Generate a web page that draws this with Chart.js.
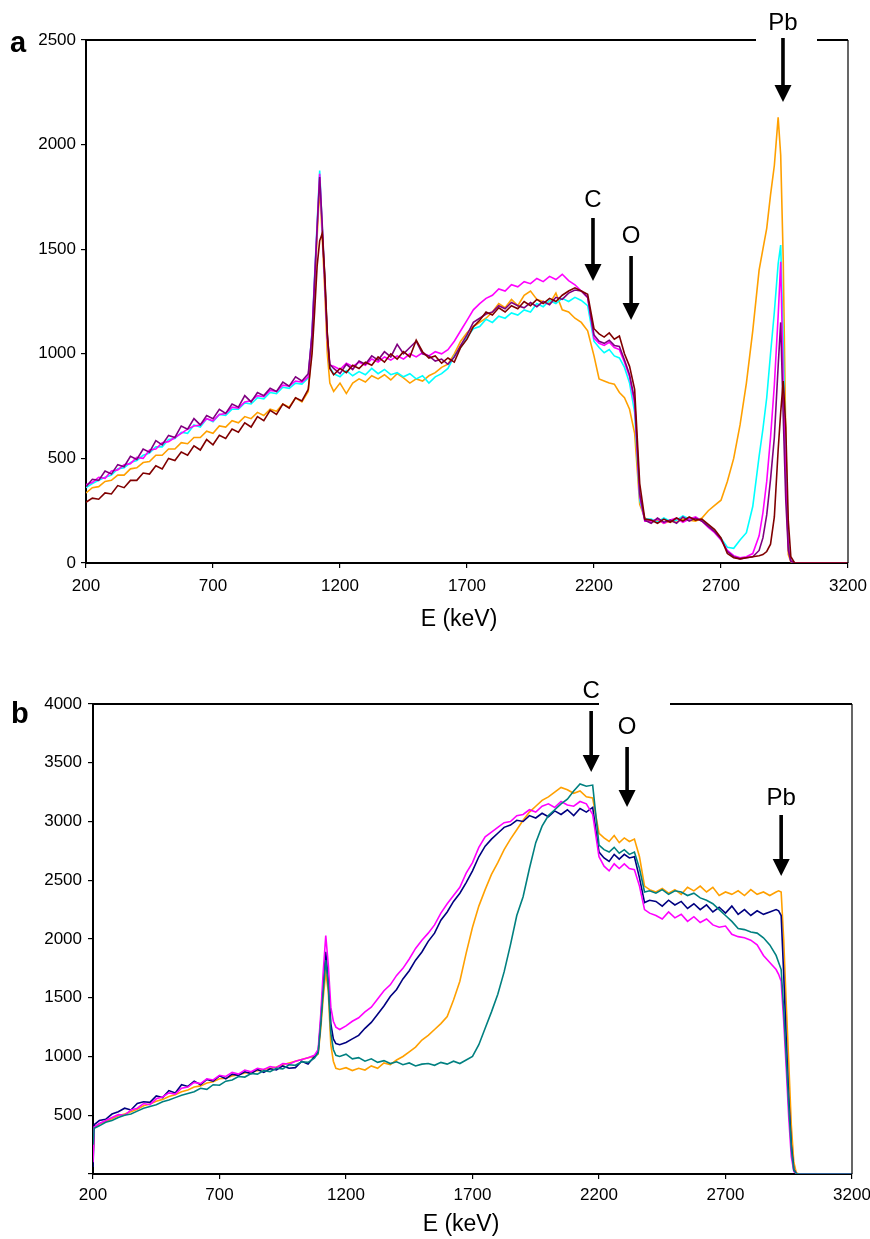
<!DOCTYPE html>
<html>
<head>
<meta charset="utf-8">
<script src="https://cdn.jsdelivr.net/npm/chart.js@4"></script>
<style>
  html, body { margin: 0; padding: 0; background: #fff; }
  #wrap { position: relative; width: 870px; height: 1239px; }
  canvas { position: absolute; left: 0; }
  #chartA { top: 0; }
  #chartB { top: 640px; }
</style>
</head>
<body>
<div id="wrap">
  <canvas id="chartA" width="870" height="640"></canvas>
  <canvas id="chartB" width="870" height="599"></canvas>
</div>
<script>
// ─── DATA: panel a ──────────────────────────────────────────────────────
const energyA = [
  200,225,250,275,300,325,350,375,400,425,450,475,500,525,550,575,600,625,650,675,700,725,750,775,800,825,850,875,900,925,950,975,1000,1025,1050,1075,
  1090,1100,1110,1120,1130,1140,1150,1160,
  1175,1200,1225,1250,1275,1300,1325,1350,1375,1400,1425,1450,1475,1500,1525,1550,1575,1600,1625,1650,1675,1700,1725,1750,1775,1800,1825,1850,1875,1900,1925,1950,1975,2000,2025,2050,2075,2100,2125,2150,2175,
  2200,2220,2240,2260,2280,2300,2320,2340,2360,2380,2400,
  2425,2450,2475,2500,2525,2550,2575,2600,2625,2650,2675,2700,2725,2750,2775,2800,2825,2850,
  2865,2880,2895,2910,2925,2935,2945,2955,2965,2975,2990,
  3000,3100,3200
];
const orangeA = [
  335,360,365,390,395,420,420,450,455,480,485,515,515,545,545,575,570,600,600,630,620,655,650,680,670,700,690,720,705,735,725,760,745,790,770,820,
  1050,1300,1560,1800,1560,1300,1000,860,
  820,860,810,860,880,865,895,880,900,875,905,885,860,880,870,895,910,935,950,1000,1060,1100,1130,1150,1170,1200,1240,1220,1260,1230,1280,1300,1260,1250,1240,1290,1210,1200,1170,1150,1110,
  990,880,870,860,855,815,790,735,620,280,215,
  195,205,190,200,195,210,205,200,215,250,275,300,390,500,660,860,1110,1400,
  1500,1600,1760,1900,2130,1950,1450,600,40,5,0,
  0,0,0
];
const cyanA = [
  360,380,395,410,420,450,455,480,490,515,525,555,555,590,595,625,620,660,650,690,675,710,705,735,735,765,760,790,785,815,810,840,835,860,855,885,
  1107,1370,1624,1876,1608,1353,1083,935,
  905,890,920,895,915,900,930,905,925,900,910,890,905,880,895,860,890,905,930,990,1030,1080,1120,1130,1165,1150,1180,1170,1195,1185,1210,1200,1240,1225,1255,1240,1265,1250,1270,1255,1230,
  1060,1030,1005,1020,990,980,935,860,720,300,210,
  210,195,215,200,205,225,210,215,205,180,150,118,75,70,110,145,270,510,
  640,790,1000,1200,1430,1520,1050,450,100,10,0,
  0,0,0
];
const magentaA = [
  375,385,410,405,440,445,470,475,505,500,540,545,575,580,600,620,640,655,660,690,680,710,715,745,740,770,775,800,795,825,820,850,845,870,865,890,
  1100,1360,1610,1860,1600,1340,1070,945,
  940,925,955,940,960,945,975,960,985,970,990,975,1000,985,1005,990,1010,1000,1020,1060,1110,1160,1210,1240,1265,1280,1310,1300,1330,1320,1345,1335,1360,1345,1370,1355,1380,1350,1330,1300,1270,
  1075,1050,1040,1055,1030,1020,960,890,760,320,200,
  200,210,190,205,215,195,210,220,200,170,145,110,60,35,25,30,45,130,
  240,390,600,850,1180,1440,860,400,80,10,0,
  0,0,0
];
const purpleA = [
  365,400,395,440,425,470,460,510,495,545,530,585,565,610,600,655,640,690,660,705,690,735,715,760,745,800,770,815,800,835,820,865,845,890,870,905,
  1090,1350,1600,1845,1620,1360,1090,950,
  930,905,950,925,965,950,990,970,1010,985,1045,1000,1030,1060,1000,990,965,975,950,985,1040,1090,1150,1170,1190,1200,1230,1215,1245,1230,1220,1245,1225,1250,1235,1270,1260,1290,1305,1300,1270,
  1090,1060,1050,1065,1040,1035,970,900,780,330,205,
  190,215,195,205,190,220,200,215,200,175,150,115,55,30,20,25,30,60,
  120,230,400,600,940,1150,700,300,60,8,0,
  0,0,0
];
const maroonA = [
  290,310,305,335,330,370,360,395,395,430,425,465,450,500,490,530,515,560,540,590,565,610,595,640,625,670,650,700,680,730,710,760,740,790,775,830,
  1000,1200,1420,1540,1575,1380,1100,930,
  900,930,910,945,930,960,945,985,960,1000,975,1010,985,1065,1010,980,990,955,980,960,1030,1070,1130,1160,1200,1185,1220,1200,1230,1215,1250,1230,1260,1240,1265,1250,1280,1300,1315,1300,1285,
  1120,1095,1080,1100,1070,1085,1000,940,830,380,210,
  205,190,210,195,215,200,220,205,210,185,160,120,45,25,20,25,30,35,
  40,55,90,220,540,720,870,650,200,30,0,
  0,0,0
];

// ─── DATA: panel b ──────────────────────────────────────────────────────
const energyB = [
  200,205,225,250,275,300,325,350,375,400,425,450,475,500,525,550,575,600,625,650,675,700,725,750,775,800,825,850,875,900,925,950,975,1000,1025,1050,1075,
  1090,1100,1110,1120,1130,1140,1150,1160,
  1175,1200,1225,1250,1275,1300,1325,1350,1375,1400,1425,1450,1475,1500,1525,1550,1575,1600,1625,1650,1675,1700,1725,1750,1775,1800,1825,1850,1875,1900,1925,1950,1975,2000,2025,2050,2075,2100,2125,2150,2175,
  2200,2220,2240,2260,2280,2300,2320,2340,2360,2380,2400,
  2425,2450,2475,2500,2525,2550,2575,2600,2625,2650,2675,2700,2725,2750,2775,2800,2825,2850,2875,2900,
  2910,2920,2930,2940,2950,2960,2970,2980,2990,
  3000,3100,3200
];
const orangeB = [
  150,400,425,445,470,495,510,530,550,580,595,620,635,660,675,700,715,740,750,775,785,810,815,835,845,860,865,880,890,900,910,930,945,960,975,990,1000,
  1020,1230,1500,1720,1550,1100,960,900,
  890,905,880,900,885,920,900,945,930,970,1000,1040,1080,1140,1180,1230,1280,1340,1480,1640,1880,2100,2280,2420,2550,2650,2760,2850,2930,3010,3080,3130,3180,3210,3250,3290,3270,3240,3260,3210,3200,
  2900,2860,2830,2880,2820,2860,2830,2850,2700,2450,2420,
  2400,2430,2390,2420,2380,2440,2410,2450,2400,2440,2370,2400,2380,2410,2370,2420,2380,2400,2370,2400,
  2410,2400,2000,1450,950,420,100,10,0,
  0,0,0
];
const navyB = [
  60,420,455,465,510,530,560,545,600,615,610,665,650,710,690,760,745,790,760,805,790,835,810,850,840,870,855,890,865,895,885,920,900,905,960,935,1000,
  1040,1300,1620,1890,1650,1280,1150,1110,
  1100,1120,1150,1180,1240,1290,1360,1430,1510,1570,1660,1730,1820,1890,1980,2050,2160,2230,2320,2390,2480,2580,2700,2790,2850,2900,2950,2970,3010,3000,3050,3030,3070,3040,3090,3060,3100,3050,3110,3080,3120,
  2740,2690,2660,2720,2680,2720,2690,2700,2520,2310,2330,
  2320,2280,2330,2290,2320,2260,2300,2250,2290,2230,2270,2220,2280,2210,2250,2200,2240,2210,2230,2250,
  2240,2200,1700,1150,650,250,40,5,0,
  0,0,0
];
const magentaB = [
  100,400,430,455,480,505,500,545,560,600,590,640,655,690,680,730,740,780,770,810,800,840,830,865,850,885,870,900,890,915,905,940,935,960,975,990,1010,
  1060,1350,1720,2030,1780,1420,1300,1250,
  1230,1260,1300,1330,1380,1420,1490,1560,1610,1690,1750,1830,1920,1990,2050,2120,2220,2300,2370,2440,2560,2650,2780,2870,2910,2950,2990,3000,3050,3060,3100,3080,3130,3150,3120,3170,3140,3130,3170,3150,3060,
  2700,2620,2580,2640,2600,2640,2600,2590,2450,2250,2220,
  2200,2170,2230,2180,2210,2150,2190,2140,2170,2120,2100,2110,2040,2020,2010,1990,1950,1860,1800,1740,
  1700,1640,1300,900,480,150,20,5,0,
  0,0,0
];
const tealB = [
  250,390,410,440,455,480,500,510,535,560,575,590,615,630,650,670,685,700,730,720,760,755,790,800,830,825,855,850,880,870,900,895,930,925,955,950,985,
  1030,1270,1560,1820,1600,1200,1060,1010,
  1000,1020,980,990,960,980,950,965,940,955,930,945,920,935,940,925,950,935,960,940,970,1000,1100,1240,1380,1530,1720,1950,2200,2360,2600,2820,2960,3050,3100,3150,3190,3260,3320,3300,3310,
  2800,2760,2740,2780,2730,2760,2720,2740,2600,2400,2410,
  2390,2420,2380,2410,2400,2370,2390,2350,2330,2300,2250,2200,2150,2090,2080,2060,2050,2010,1950,1860,
  1800,1740,1400,1000,580,220,30,5,0,
  0,0,0
];

// ─── TICKS ──────────────────────────────────────────────────────────────
const xTicks  = [200, 700, 1200, 1700, 2200, 2700, 3200];
const yTicksA = [0, 500, 1000, 1500, 2000, 2500];
const yTicksB = [0, 500, 1000, 1500, 2000, 2500, 3000, 3500, 4000];

// ─── STYLE ──────────────────────────────────────────────────────────────
const FONT = "'Liberation Sans', Arial, Helvetica, sans-serif";
const TICK_FONT = { family: FONT, size: 17 };

function series(xs, ys, color) {
  return {
    data: xs.map((x, i) => ({ x, y: ys[i] })),
    borderColor: color,
    borderWidth: 1.6,
    pointRadius: 0,
    fill: false,
    tension: 0
  };
}

// frame, arrows with element labels, panel letter, axis title
const framePlugin = {
  id: "frame",
  afterDraw(chart, args, o) {
    const { ctx, chartArea: a, scales } = chart;
    ctx.save();
    ctx.strokeStyle = "#000";
    ctx.lineWidth = 2;
    ctx.beginPath(); ctx.moveTo(a.left, a.top); ctx.lineTo(a.right, a.top); ctx.stroke();
    ctx.lineWidth = 1.2;
    ctx.beginPath(); ctx.moveTo(a.right, a.top); ctx.lineTo(a.right, a.bottom); ctx.stroke();

    // white label box breaking the top border
    ctx.fillStyle = "#fff";
    ctx.fillRect(o.gap[0], a.top - 3, o.gap[1] - o.gap[0], 6);

    ctx.fillStyle = "#000";
    ctx.textAlign = "center";
    ctx.textBaseline = "middle";
    o.notes.forEach(n => {
      const x = scales.x.getPixelForValue(n.e);
      ctx.font = `24px ${FONT}`;
      ctx.fillText(n.text, x, n.textY);
      ctx.fillRect(x - 1.8, n.top, 3.6, n.tip - 16 - n.top);
      ctx.beginPath();
      ctx.moveTo(x - 8.5, n.tip - 17);
      ctx.lineTo(x + 8.5, n.tip - 17);
      ctx.lineTo(x, n.tip);
      ctx.closePath();
      ctx.fill();
    });

    ctx.font = `23px ${FONT}`;
    ctx.fillText("E (keV)", o.titleX, o.titleY);

    ctx.font = `bold 29px ${FONT}`;
    ctx.textAlign = "left";
    ctx.textBaseline = "alphabetic";
    ctx.fillText(o.letter, o.letterX, o.letterY);
    ctx.restore();
  }
};

function axis(ticks, pad, fitFn, labelFn, extra) {
  return Object.assign({
    afterBuildTicks: s => { s.ticks = ticks.map(v => ({ value: v })); },
    afterFit: fitFn,
    ticks: { color: "#000", font: TICK_FONT, padding: pad, autoSkip: false, maxRotation: 0, callback: labelFn },
    grid: { drawOnChartArea: false, drawTicks: true, tickLength: 5, color: "#000", lineWidth: 1.2 },
    border: { display: true, color: "#000", width: 2 }
  }, extra);
}

function makeChart(id, datasets, cfg) {
  return new Chart(document.getElementById(id), {
    type: "line",
    data: { datasets },
    plugins: [framePlugin],
    options: {
      responsive: false,
      animation: false,
      events: [],
      layout: { padding: { left: 0, top: cfg.top, right: cfg.right, bottom: 0 } },
      plugins: { legend: { display: false }, tooltip: { enabled: false }, frame: cfg.frame },
      scales: {
        x: axis(xTicks, cfg.xPad, s => { s.height = cfg.xHeight; s.paddingLeft = 0; s.paddingRight = 0; },
          v => String(v), { type: "linear", min: 200, max: 3200 }),
        y: axis(cfg.yTicks, cfg.yPad, s => { s.width = cfg.yWidth; s.paddingTop = 0; s.paddingBottom = 0; },
          cfg.yLabel, { type: "linear", min: 0, max: cfg.yMax })
      }
    }
  });
}

// ─── PANEL a ────────────────────────────────────────────────────────────
makeChart("chartA", [
  series(energyA, maroonA, "#800000"),
  series(energyA, purpleA, "#800080"),
  series(energyA, magentaA, "#ff00ff"),
  series(energyA, cyanA, "#00ffff"),
  series(energyA, orangeA, "#ffa000")
], {
  top: 40, right: 22, yWidth: 86, xHeight: 77, xPad: 8, yPad: 5, yMax: 2500, yTicks: yTicksA,
  yLabel: v => String(v),
  frame: {
    gap: [756, 817],
    notes: [
      { text: "Pb", e: 2944, textY: 23, top: 38, tip: 102 },
      { text: "C", e: 2196, textY: 200, top: 218, tip: 281 },
      { text: "O", e: 2346, textY: 236, top: 256, tip: 320 }
    ],
    titleX: 459, titleY: 620, letter: "a", letterX: 10, letterY: 52
  }
});

// ─── PANEL b ────────────────────────────────────────────────────────────
makeChart("chartB", [
  series(energyB, tealB, "#008080"),
  series(energyB, magentaB, "#ff00ff"),
  series(energyB, navyB, "#000080"),
  series(energyB, orangeB, "#ffa000")
], {
  top: 64, right: 18, yWidth: 93, xHeight: 65, xPad: 6, yPad: 6, yMax: 4000, yTicks: yTicksB,
  yLabel: v => (v === 0 ? "" : String(v)),
  frame: {
    gap: [599, 670],
    notes: [
      { text: "C", e: 2169, textY: 51, top: 71, tip: 132 },
      { text: "O", e: 2311, textY: 87, top: 107, tip: 167 },
      { text: "Pb", e: 2920, textY: 158, top: 175, tip: 236 }
    ],
    titleX: 461, titleY: 585, letter: "b", letterX: 11, letterY: 83
  }
});
</script>
</body>
</html>
